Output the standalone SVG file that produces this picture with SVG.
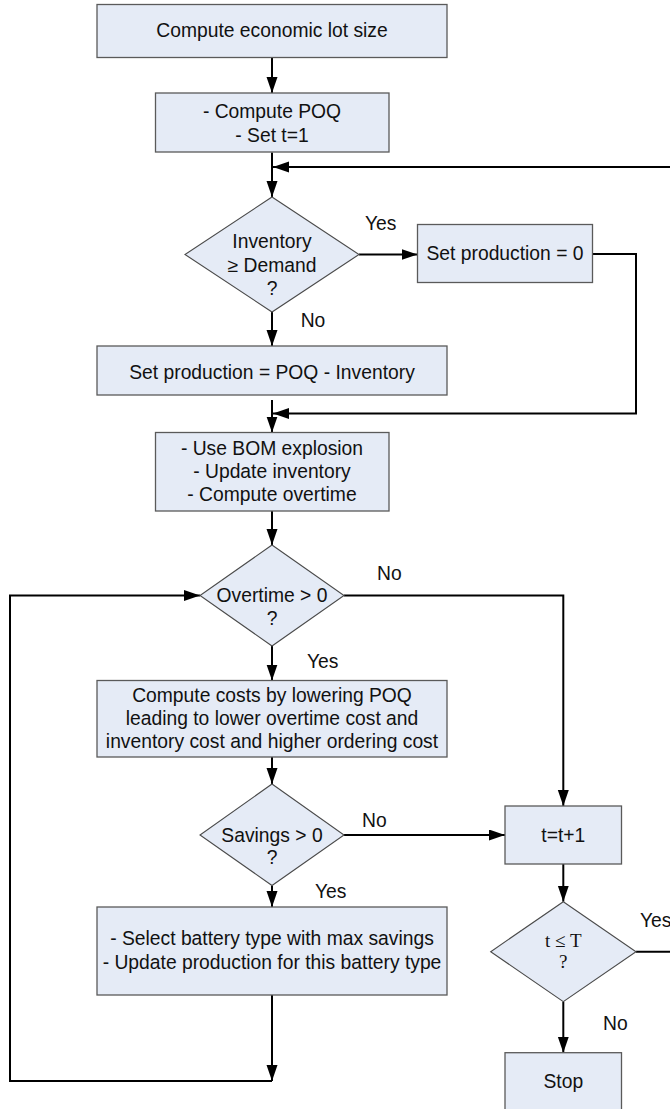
<svg xmlns="http://www.w3.org/2000/svg" width="670" height="1109" viewBox="0 0 670 1109">
<style>
.box{fill:#E5EBF6;stroke:#5a5a5a;stroke-width:1.3}
.dia{fill:#E5EBF6;stroke:#4a4a4a;stroke-width:1.1}
.t{font-family:"Liberation Sans",Arial,sans-serif;font-size:19.3px;fill:#111;text-anchor:middle}
.l{font-family:"Liberation Sans",Arial,sans-serif;font-size:19.3px;fill:#111}
.s{font-family:"Liberation Serif","Times New Roman",serif;font-size:19px;fill:#111;text-anchor:middle}
.c{fill:none;stroke:#000;stroke-width:2}
.a{marker-end:url(#ah)}
</style>
<defs>
<marker id="ah" markerUnits="userSpaceOnUse" markerWidth="16" markerHeight="12" refX="16" refY="5.5" orient="auto">
<path d="M0,0 L16,5.5 L0,11 z" fill="#000"/>
</marker>
</defs>
<rect width="670" height="1109" fill="#fff"/>
<g id="connectors">
<path class="c a" d="M272,57.5 V93"/>
<path class="c a" d="M272,152.5 V197"/>
<path class="c a" d="M680,167 H273"/>
<path class="c a" d="M359,254.5 H417.5"/>
<path class="c a" d="M272,312 V346"/>
<path class="c a" d="M592.5,254 H636 V413.5 H273"/>
<path class="c a" d="M272,400 V432.5"/>
<path class="c a" d="M272,511 V545"/>
<path class="c a" d="M344,595.5 H563.3 V806"/>
<path class="c a" d="M272,646 V680.5"/>
<path class="c a" d="M272,757 V784"/>
<path class="c a" d="M344,835 H505"/>
<path class="c a" d="M272,885.5 V907"/>
<path class="c a" d="M272,995 V1081"/>
<path class="c a" d="M272,1081 H10 V595.5 H200"/>
<path class="c a" d="M563.3,864 V901.7"/>
<path class="c" d="M636,951.7 H680"/>
<path class="c a" d="M563.3,1001.7 V1052.7"/>
</g>
<g id="n1"><rect class="box" x="97" y="4.5" width="350" height="53"/><text class="t" x="272" y="37">Compute economic lot size</text></g>
<g id="n2"><rect class="box" x="155.5" y="93" width="233.5" height="59"/><text class="t" x="272" y="117.5">- Compute POQ</text><text class="t" x="272" y="141.5">- Set t=1</text></g>
<g id="d1"><polygon class="dia" points="272,197 359,254.5 272,312 185,254.5"/><text class="t" x="272" y="248">Inventory</text><text class="t" x="272" y="272">≥ Demand</text><text class="t" x="272" y="295">?</text></g>
<g id="n3"><rect class="box" x="417.5" y="224.5" width="175" height="58"/><text class="t" x="505" y="260">Set production = 0</text></g>
<g id="n4"><rect class="box" x="97" y="346" width="350" height="49"/><text class="t" x="272" y="379">Set production = POQ - Inventory</text></g>
<g id="n5"><rect class="box" x="155.5" y="432.5" width="233.5" height="78.5"/><text class="t" x="272" y="455">- Use BOM explosion</text><text class="t" x="272" y="478">- Update inventory</text><text class="t" x="272" y="501">- Compute overtime</text></g>
<g id="d2"><polygon class="dia" points="272,545 344,595.5 272,646 200,595.5"/><text class="t" x="272" y="602">Overtime &gt; 0</text><text class="t" x="272" y="625">?</text></g>
<g id="n6"><rect class="box" x="97" y="680.5" width="350" height="76.5"/><text class="t" x="272" y="702">Compute costs by lowering POQ</text><text class="t" x="272" y="725">leading to lower overtime cost and</text><text class="t" x="272" y="748">inventory cost and higher ordering cost</text></g>
<g id="d3"><polygon class="dia" points="272,784 344,835 272,885.5 200,835"/><text class="t" x="272" y="842">Savings &gt; 0</text><text class="t" x="272" y="864">?</text></g>
<g id="n7"><rect class="box" x="97" y="907" width="350" height="88"/><text class="t" x="272" y="945">- Select battery type with max savings</text><text class="t" x="272" y="968.5">- Update production for this battery type</text></g>
<g id="n8"><rect class="box" x="505" y="806" width="116.5" height="58"/><text class="t" x="563.3" y="842">t=t+1</text></g>
<g id="d4"><polygon class="dia" points="563.3,901.7 636,951.7 563.3,1001.7 490.7,951.7"/><text class="s" x="563.3" y="947">t ≤ T</text><text class="s" x="563.3" y="968">?</text></g>
<g id="n9"><rect class="box" x="505" y="1052.7" width="116.5" height="62"/><text class="t" x="563.3" y="1088">Stop</text></g>
<g id="labels">
<text class="l" x="365" y="230">Yes</text>
<text class="l" x="300.7" y="327">No</text>
<text class="l" x="377" y="580">No</text>
<text class="l" x="307" y="668">Yes</text>
<text class="l" x="362" y="827">No</text>
<text class="l" x="315" y="898">Yes</text>
<text class="l" x="640" y="927">Yes</text>
<text class="l" x="603" y="1030">No</text>
</g>
</svg>
